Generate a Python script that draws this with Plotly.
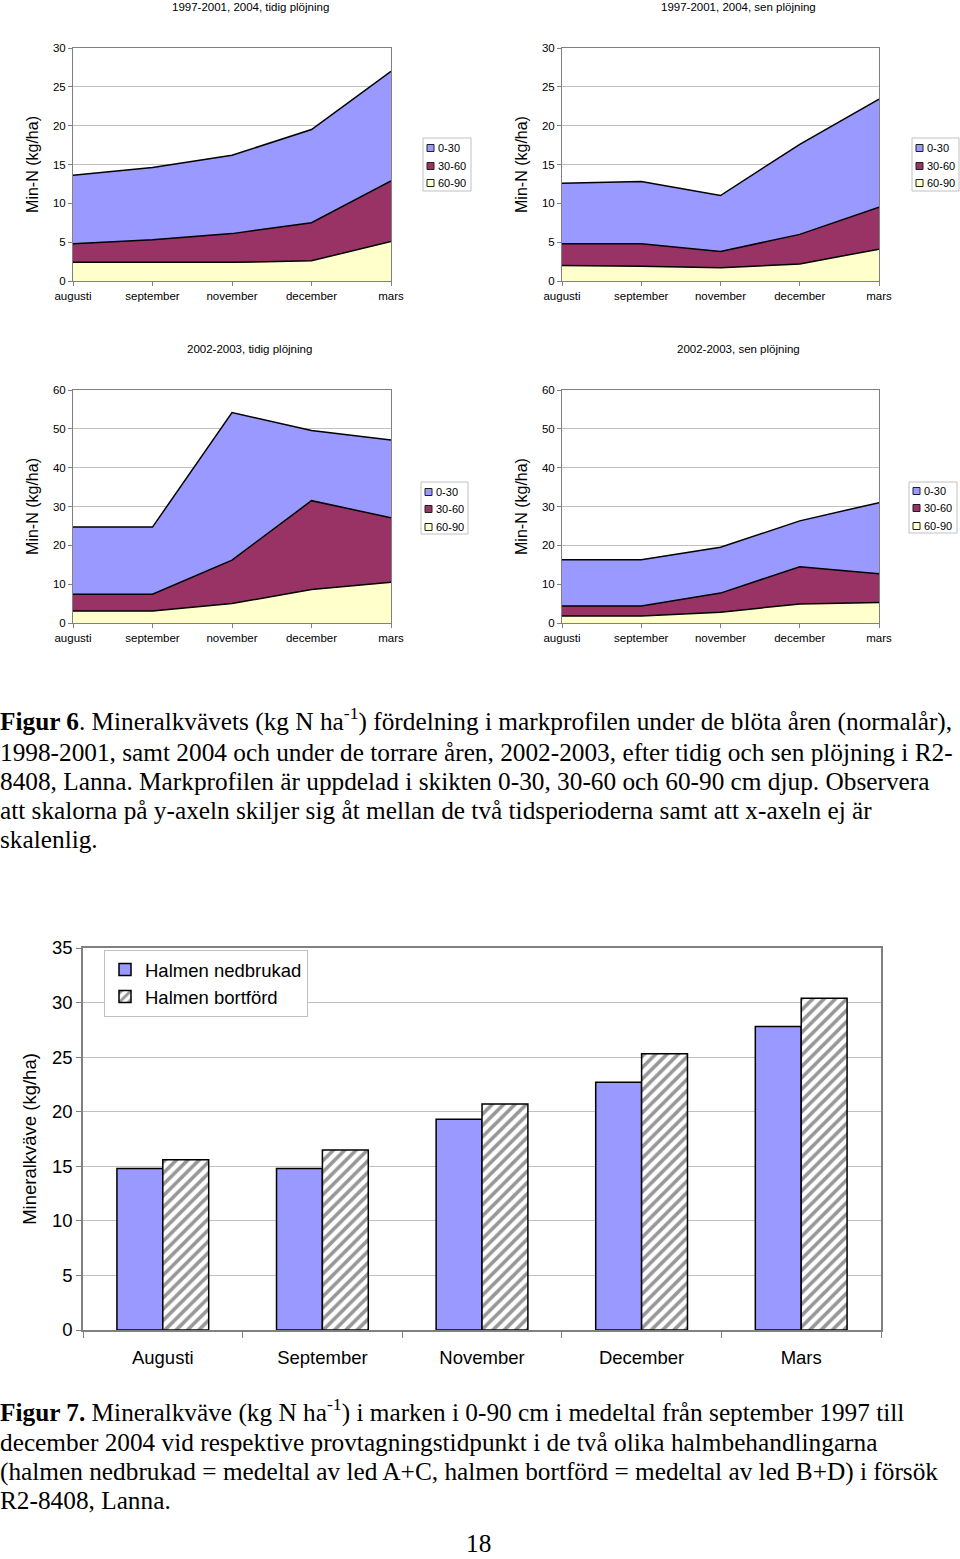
import plotly.graph_objects as go

W, H = 960, 1559

# ---------------- data ----------------
months = ["augusti", "september", "november", "december", "mars"]
layers = ["0-30", "30-60", "60-90"]

c1_0_30 = [8.8, 9.3, 10.1, 12.0, 14.1]
c1_30_60 = [2.4, 2.9, 3.7, 4.9, 7.8]
c1_60_90 = [2.4, 2.4, 2.4, 2.6, 5.1]

c2_0_30 = [7.8, 8.0, 7.2, 11.6, 13.9]
c2_30_60 = [2.8, 2.9, 2.1, 3.8, 5.4]
c2_60_90 = [2.0, 1.9, 1.7, 2.2, 4.1]

c3_0_30 = [17.3, 17.3, 38.0, 18.1, 20.0]
c3_30_60 = [4.3, 4.3, 11.2, 22.9, 16.6]
c3_60_90 = [3.1, 3.1, 5.0, 8.6, 10.5]

c4_0_30 = [11.9, 11.9, 11.8, 11.8, 18.3]
c4_30_60 = [2.6, 2.6, 4.9, 9.6, 7.4]
c4_60_90 = [1.8, 1.8, 2.8, 4.9, 5.3]

chart_titles = ["1997-2001, 2004, tidig plöjning", "1997-2001, 2004, sen plöjning",
                "2002-2003, tidig plöjning", "2002-2003, sen plöjning"]

bar_months = ["Augusti", "September", "November", "December", "Mars"]
bar_series = ["Halmen nedbrukad", "Halmen bortförd"]
nedbrukad = [14.8, 14.8, 19.3, 22.7, 27.8]
bortford = [15.6, 16.5, 20.7, 25.3, 30.4]

# ---------------- styles ----------------
COL = {"0-30": "#9999FF", "30-60": "#993366", "60-90": "#FFFFCC"}
GRID = "#c0c0c0"
FRAME = "#808080"
SANS = "Liberation Sans, Arial, sans-serif"
SERIF = "Liberation Serif, Times New Roman, serif"


def px(x):
    return x / W


def py(y):
    return 1 - y / H


fig = go.Figure()

charts = [
    dict(data=(c1_0_30, c1_30_60, c1_60_90), ymax=30, dt=5, x0=73, x1=391, y0=48, y1=281,
         title=(250, 7), leg=(423, 138, 471, 191, [148, 166, 183])),
    dict(data=(c2_0_30, c2_30_60, c2_60_90), ymax=30, dt=5, x0=562, x1=879, y0=48, y1=281,
         title=(738, 7), leg=(912, 138, 959, 191, [148, 166, 183])),
    dict(data=(c3_0_30, c3_30_60, c3_60_90), ymax=60, dt=10, x0=73, x1=391, y0=390, y1=623,
         title=(249, 349), leg=(421, 482, 468, 534, [492, 509, 527])),
    dict(data=(c4_0_30, c4_30_60, c4_60_90), ymax=60, dt=10, x0=562, x1=879, y0=390, y1=623,
         title=(738, 349), leg=(909, 482, 957, 533, [491, 508, 526])),
]

shapes = []
annotations = []

for i, ch in enumerate(charts):
    n = i + 1
    xa = "x" if n == 1 else f"x{n}"
    ya = "y" if n == 1 else f"y{n}"
    d030, d3060, d6090 = ch["data"]
    # stacked from bottom: 60-90, 30-60, 0-30
    for name, vals in (("60-90", d6090), ("30-60", d3060), ("0-30", d030)):
        fig.add_trace(go.Scatter(
            x=months, y=vals, name=name, mode="lines", stackgroup=f"s{n}",
            line=dict(color="black", width=1.5), fillcolor=COL[name],
            xaxis=xa, yaxis=ya, showlegend=False))
    xkey = "xaxis" if n == 1 else f"xaxis{n}"
    ykey = "yaxis" if n == 1 else f"yaxis{n}"
    fig.update_layout(**{
        xkey: dict(domain=[px(ch["x0"]), px(ch["x1"])], anchor=ya, type="category",
                   range=[0, 4], showgrid=False, zeroline=False, showline=True,
                   linecolor=FRAME, linewidth=1, mirror=True, ticks="outside",
                   ticklen=4, tickcolor=FRAME, automargin=False,
                   tickfont=dict(family=SANS, size=11.5, color="black")),
        ykey: dict(domain=[py(ch["y1"]), py(ch["y0"])], anchor=xa,
                   range=[0, ch["ymax"]], dtick=ch["dt"], showgrid=True, gridcolor=GRID,
                   zeroline=False, showline=True, linecolor=FRAME, linewidth=1,
                   mirror=True, ticks="outside", ticklen=4, tickcolor=FRAME,
                   automargin=False,
                   tickfont=dict(family=SANS, size=11.5, color="black"),
                   title=dict(text="Min-N (kg/ha)", standoff=10,
                              font=dict(family=SANS, size=16, color="black"))),
    })
    # chart title
    tx, ty = ch["title"]
    annotations.append(dict(x=px(tx), y=py(ty), xref="paper", yref="paper",
                            text=chart_titles[i], showarrow=False,
                            xanchor="center", yanchor="middle",
                            font=dict(family=SANS, size=11.5, color="black")))
    # legend box
    lx0, ly0, lx1, ly1, items = ch["leg"]
    shapes.append(dict(type="rect", xref="paper", yref="paper",
                       x0=px(lx0), x1=px(lx1), y0=py(ly1), y1=py(ly0),
                       line=dict(color=GRID, width=1), fillcolor="white", layer="above"))
    for name, iy in zip(layers, items):
        shapes.append(dict(type="rect", xref="paper", yref="paper",
                           x0=px(lx0 + 4), x1=px(lx0 + 11), y0=py(iy + 3.5), y1=py(iy - 3.5),
                           line=dict(color="#202020", width=1), fillcolor=COL[name],
                           layer="above"))
        annotations.append(dict(x=px(lx0 + 13), y=py(iy), xref="paper", yref="paper",
                                text=name, showarrow=False, xanchor="left",
                                yanchor="middle",
                                font=dict(family=SANS, size=11, color="black")))

# ---------------- bar chart ----------------
fig.add_trace(go.Bar(
    x=bar_months, y=nedbrukad, name=bar_series[0], xaxis="x5", yaxis="y5",
    marker=dict(color="#9999FF", line=dict(color="black", width=1.5))))
fig.add_trace(go.Bar(
    x=bar_months, y=bortford, name=bar_series[1], xaxis="x5", yaxis="y5",
    marker=dict(color="white", line=dict(color="black", width=1.5),
                pattern=dict(shape="/", fgcolor="#303030", bgcolor="white",
                             size=8, solidity=0.45))))

fig.update_layout(
    xaxis5=dict(domain=[px(83), px(881)], anchor="y5", type="category",
                showgrid=False, zeroline=False, showline=True, linecolor=FRAME,
                linewidth=1.5, mirror=True, ticks="outside", ticklen=6,
                tickcolor=FRAME, tickson="boundaries", automargin=False,
                ticklabelstandoff=10,
                tickfont=dict(family=SANS, size=18.5, color="black")),
    yaxis5=dict(domain=[py(1330), py(948)], anchor="x5", range=[0, 35], dtick=5,
                showgrid=True, gridcolor=GRID, zeroline=False, showline=True,
                linecolor=FRAME, linewidth=1.5, mirror=True, ticks="outside",
                ticklen=5, tickcolor=FRAME, automargin=False,
                tickfont=dict(family=SANS, size=18.5, color="black"),
                title=dict(text="Mineralkväve (kg/ha)", standoff=10,
                           font=dict(family=SANS, size=18.5, color="black"))),
    barmode="group", bargap=0.425, bargroupgap=0,
    legend=dict(x=px(104), y=py(950), xanchor="left", yanchor="top",
                bgcolor="white", bordercolor=GRID, borderwidth=1,
                traceorder="normal", itemwidth=30,
                font=dict(family=SANS, size=18.5, color="black"),
                tracegroupgap=0),
)

# ---------------- captions ----------------
cap6 = [
    "<b>Figur 6</b>. Mineralkvävets (kg N ha<sup>-1</sup>) fördelning i markprofilen under de blöta åren (normalår),",
    "1998-2001, samt 2004 och under de torrare åren, 2002-2003, efter tidig och sen plöjning i R2-",
    "8408, Lanna. Markprofilen är uppdelad i skikten 0-30, 30-60 och 60-90 cm djup. Observera",
    "att skalorna på y-axeln skiljer sig åt mellan de två tidsperioderna samt att x-axeln ej är",
    "skalenlig.",
]
cap6_y = [719, 752, 781, 810, 839]
cap7 = [
    "<b>Figur 7.</b> Mineralkväve (kg N ha<sup>-1</sup>) i marken i 0-90 cm i medeltal från september 1997 till",
    "december 2004 vid respektive provtagningstidpunkt i de två olika halmbehandlingarna",
    "(halmen nedbrukad = medeltal av led A+C, halmen bortförd = medeltal av led B+D) i försök",
    "R2-8408, Lanna.",
]
cap7_y = [1410, 1442, 1471, 1500]

for txt, yy in list(zip(cap6, cap6_y)) + list(zip(cap7, cap7_y)):
    annotations.append(dict(x=0, y=py(yy), xref="paper", yref="paper", text=txt,
                            showarrow=False, xanchor="left", yanchor="middle",
                            xshift=-2,
                            font=dict(family=SERIF, size=25.3, color="black")))

annotations.append(dict(x=px(478), y=0, xref="paper", yref="paper", text="18",
                        showarrow=False, xanchor="center", yanchor="bottom",
                        font=dict(family=SERIF, size=25.3, color="black")))

fig.update_layout(
    width=W, height=H, margin=dict(l=0, r=0, t=0, b=0),
    paper_bgcolor="white", plot_bgcolor="white",
    shapes=shapes, annotations=annotations, showlegend=True,
    font=dict(family=SANS, color="black"),
)

fig.write_html("out.html")
